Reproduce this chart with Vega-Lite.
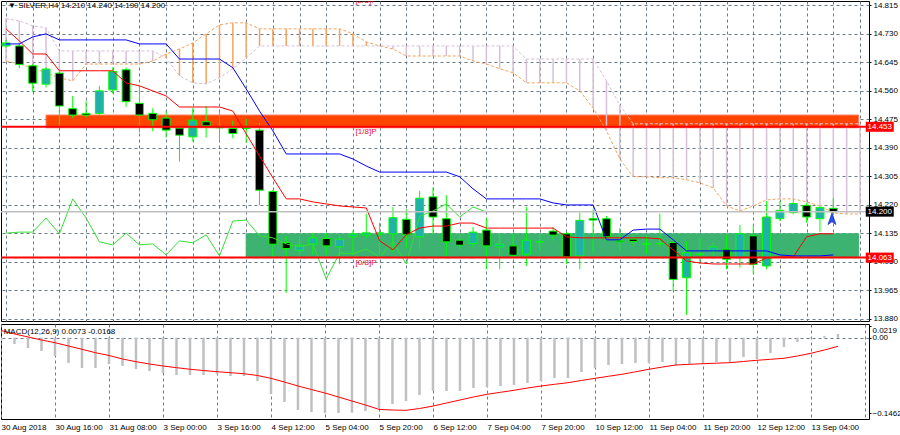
{
"$schema": "https://vega.github.io/schema/vega-lite/v6.json",
"padding": 0,
"background": "#ffffff",
"autosize": {"type": "pad"},
"spacing": 3,
"bounds": "flush",
"datasets": {
"candles": [
{"i":0,"o":14.694,"h":14.712,"l":14.688,"c":14.703},
{"i":1,"o":14.694,"h":14.703,"l":14.628,"c":14.639},
{"i":2,"o":14.635,"h":14.640,"l":14.557,"c":14.583},
{"i":3,"o":14.580,"h":14.630,"l":14.570,"c":14.625},
{"i":4,"o":14.613,"h":14.618,"l":14.456,"c":14.515},
{"i":5,"o":14.507,"h":14.545,"l":14.479,"c":14.488},
{"i":6,"o":14.493,"h":14.530,"l":14.480,"c":14.488},
{"i":7,"o":14.493,"h":14.575,"l":14.485,"c":14.560},
{"i":8,"o":14.563,"h":14.630,"l":14.552,"c":14.618},
{"i":9,"o":14.623,"h":14.630,"l":14.512,"c":14.528},
{"i":10,"o":14.523,"h":14.575,"l":14.436,"c":14.488},
{"i":11,"o":14.493,"h":14.508,"l":14.440,"c":14.474},
{"i":12,"o":14.479,"h":14.500,"l":14.421,"c":14.443},
{"i":13,"o":14.449,"h":14.456,"l":14.349,"c":14.428},
{"i":14,"o":14.423,"h":14.510,"l":14.409,"c":14.473},
{"i":15,"o":14.468,"h":14.515,"l":14.421,"c":14.456},
{"i":16,"o":14.453,"h":14.498,"l":14.411,"c":14.450},
{"i":17,"o":14.448,"h":14.471,"l":14.419,"c":14.433},
{"i":18,"o":14.450,"h":14.476,"l":14.405,"c":14.448},
{"i":19,"o":14.443,"h":14.465,"l":14.219,"c":14.264},
{"i":20,"o":14.260,"h":14.265,"l":14.063,"c":14.103},
{"i":21,"o":14.108,"h":14.127,"l":13.958,"c":14.090},
{"i":22,"o":14.085,"h":14.127,"l":14.071,"c":14.100},
{"i":23,"o":14.103,"h":14.137,"l":14.071,"c":14.122},
{"i":24,"o":14.120,"h":14.137,"l":14.071,"c":14.098},
{"i":25,"o":14.095,"h":14.133,"l":14.043,"c":14.118},
{"i":26,"o":14.125,"h":14.144,"l":14.071,"c":14.133},
{"i":27,"o":14.130,"h":14.194,"l":14.122,"c":14.137},
{"i":28,"o":14.133,"h":14.167,"l":14.074,"c":14.137},
{"i":29,"o":14.134,"h":14.214,"l":14.078,"c":14.182},
{"i":30,"o":14.177,"h":14.207,"l":14.091,"c":14.131},
{"i":31,"o":14.125,"h":14.262,"l":14.088,"c":14.240},
{"i":32,"o":14.244,"h":14.272,"l":14.133,"c":14.184},
{"i":33,"o":14.179,"h":14.249,"l":14.068,"c":14.110},
{"i":34,"o":14.115,"h":14.135,"l":14.088,"c":14.100},
{"i":35,"o":14.105,"h":14.154,"l":14.093,"c":14.139},
{"i":36,"o":14.145,"h":14.182,"l":14.028,"c":14.098},
{"i":37,"o":14.095,"h":14.134,"l":14.028,"c":14.103},
{"i":38,"o":14.098,"h":14.134,"l":14.068,"c":14.070},
{"i":39,"o":14.073,"h":14.214,"l":14.038,"c":14.115},
{"i":40,"o":14.110,"h":14.133,"l":14.083,"c":14.110},
{"i":41,"o":14.142,"h":14.154,"l":14.113,"c":14.130},
{"i":42,"o":14.134,"h":14.140,"l":14.043,"c":14.065},
{"i":43,"o":14.068,"h":14.197,"l":14.028,"c":14.174},
{"i":44,"o":14.179,"h":14.207,"l":14.078,"c":14.175},
{"i":45,"o":14.179,"h":14.187,"l":14.113,"c":14.125},
{"i":46,"o":14.113,"h":14.151,"l":14.083,"c":14.110},
{"i":47,"o":14.118,"h":14.133,"l":14.098,"c":14.111},
{"i":48,"o":14.104,"h":14.128,"l":14.074,"c":14.104},
{"i":49,"o":14.105,"h":14.194,"l":14.093,"c":14.104},
{"i":50,"o":14.108,"h":14.118,"l":13.963,"c":13.998},
{"i":51,"o":14.003,"h":14.111,"l":13.892,"c":14.078},
{"i":52,"o":14.073,"h":14.122,"l":14.044,"c":14.073},
{"i":53,"o":14.083,"h":14.108,"l":14.068,"c":14.095},
{"i":54,"o":14.088,"h":14.130,"l":14.028,"c":14.058},
{"i":55,"o":14.063,"h":14.160,"l":14.033,"c":14.134},
{"i":56,"o":14.128,"h":14.160,"l":14.015,"c":14.043},
{"i":57,"o":14.038,"h":14.232,"l":14.028,"c":14.184},
{"i":58,"o":14.179,"h":14.232,"l":14.172,"c":14.204},
{"i":59,"o":14.197,"h":14.237,"l":14.192,"c":14.224},
{"i":60,"o":14.219,"h":14.227,"l":14.167,"c":14.184},
{"i":61,"o":14.179,"h":14.217,"l":14.140,"c":14.212},
{"i":62,"o":14.210,"h":14.240,"l":14.190,"c":14.200}
],
"ichi": [
{"i":0,"t":14.745,"k":14.700},{"i":1,"t":14.709,"k":14.700},{"i":2,"t":14.670,"k":14.721},{"i":3,"t":14.670,"k":14.730},
{"i":4,"t":14.620,"k":14.712},{"i":5,"t":14.620,"k":14.712},{"i":6,"t":14.620,"k":14.712},{"i":7,"t":14.620,"k":14.712},
{"i":8,"t":14.620,"k":14.712},{"i":9,"t":14.584,"k":14.712},{"i":10,"t":14.575,"k":14.700},{"i":11,"t":14.560,"k":14.700},
{"i":12,"t":14.545,"k":14.700},{"i":13,"t":14.512,"k":14.655},{"i":14,"t":14.512,"k":14.655},{"i":15,"t":14.512,"k":14.655},
{"i":16,"t":14.512,"k":14.655},{"i":17,"t":14.500,"k":14.629},{"i":18,"t":14.432,"k":14.566},{"i":19,"t":14.366,"k":14.500},
{"i":20,"t":14.301,"k":14.441},{"i":21,"t":14.238,"k":14.372},{"i":22,"t":14.238,"k":14.372},{"i":23,"t":14.229,"k":14.372},
{"i":24,"t":14.223,"k":14.372},{"i":25,"t":14.217,"k":14.372},{"i":26,"t":14.214,"k":14.357},{"i":27,"t":14.211,"k":14.336},
{"i":28,"t":14.113,"k":14.318},{"i":29,"t":14.086,"k":14.318},{"i":30,"t":14.131,"k":14.318},{"i":31,"t":14.151,"k":14.318},
{"i":32,"t":14.157,"k":14.318},{"i":33,"t":14.157,"k":14.318},{"i":34,"t":14.166,"k":14.304},{"i":35,"t":14.166,"k":14.268},
{"i":36,"t":14.151,"k":14.238},{"i":37,"t":14.151,"k":14.238},{"i":38,"t":14.151,"k":14.238},{"i":39,"t":14.151,"k":14.238},
{"i":40,"t":14.151,"k":14.238},{"i":41,"t":14.151,"k":14.226},{"i":42,"t":14.125,"k":14.220},{"i":43,"t":14.122,"k":14.220},
{"i":44,"t":14.122,"k":14.220},{"i":45,"t":14.122,"k":14.116},{"i":46,"t":14.122,"k":14.116},{"i":47,"t":14.122,"k":14.145},
{"i":48,"t":14.122,"k":14.148},{"i":49,"t":14.119,"k":14.148},{"i":50,"t":14.086,"k":14.116},{"i":51,"t":14.053,"k":14.083},
{"i":52,"t":14.047,"k":14.083},{"i":53,"t":14.044,"k":14.083},{"i":54,"t":14.044,"k":14.083},{"i":55,"t":14.044,"k":14.083},
{"i":56,"t":14.044,"k":14.083},{"i":57,"t":14.062,"k":14.083},{"i":58,"t":14.065,"k":14.071},{"i":59,"t":14.065,"k":14.068},
{"i":60,"t":14.125,"k":14.068},{"i":61,"t":14.134,"k":14.068},{"i":62,"t":14.134,"k":14.071}
],
"chikou": [
{"i":0,"v":14.136},{"i":1,"v":14.139},{"i":2,"v":14.139},{"i":3,"v":14.181},{"i":4,"v":14.134},{"i":5,"v":14.238},
{"i":6,"v":14.181},{"i":7,"v":14.110},{"i":8,"v":14.101},{"i":9,"v":14.136},{"i":10,"v":14.101},{"i":11,"v":14.104},
{"i":12,"v":14.071},{"i":13,"v":14.113},{"i":14,"v":14.107},{"i":15,"v":14.131},{"i":16,"v":14.068},{"i":17,"v":14.172},
{"i":18,"v":14.175},{"i":19,"v":14.128},{"i":20,"v":14.122},{"i":21,"v":14.104},{"i":22,"v":14.095},{"i":23,"v":14.104},
{"i":24,"v":13.999},{"i":25,"v":14.077},{"i":26,"v":14.074},{"i":27,"v":14.089},{"i":28,"v":14.064},{"i":29,"v":14.110},
{"i":30,"v":14.044},{"i":31,"v":14.186},{"i":32,"v":14.202},{"i":33,"v":14.223},{"i":34,"v":14.184},{"i":35,"v":14.214},
{"i":36,"v":14.199}
],
"spans": [
{"i":0,"a":14.649,"b":14.775},{"i":1,"a":14.640,"b":14.769},{"i":2,"a":14.629,"b":14.754},{"i":3,"a":14.614,"b":14.748},
{"i":4,"a":14.599,"b":14.679},{"i":5,"a":14.590,"b":14.679},{"i":6,"a":14.640,"b":14.679},{"i":7,"a":14.640,"b":14.679},
{"i":8,"a":14.640,"b":14.679},{"i":9,"a":14.640,"b":14.679},{"i":10,"a":14.640,"b":14.679},{"i":11,"a":14.649,"b":14.679},
{"i":12,"a":14.670,"b":14.658},{"i":13,"a":14.685,"b":14.605},{"i":14,"a":14.703,"b":14.584},{"i":15,"a":14.730,"b":14.581},
{"i":16,"a":14.757,"b":14.599},{"i":17,"a":14.763,"b":14.626},{"i":18,"a":14.763,"b":14.658},{"i":19,"a":14.745,"b":14.694},
{"i":20,"a":14.745,"b":14.694},{"i":21,"a":14.745,"b":14.694},{"i":22,"a":14.745,"b":14.694},{"i":23,"a":14.745,"b":14.694},
{"i":24,"a":14.745,"b":14.694},{"i":25,"a":14.745,"b":14.694},{"i":26,"a":14.730,"b":14.694},{"i":27,"a":14.706,"b":14.694},
{"i":28,"a":14.694,"b":14.694},{"i":29,"a":14.685,"b":14.694},{"i":30,"a":14.664,"b":14.694},{"i":31,"a":14.664,"b":14.694},
{"i":32,"a":14.664,"b":14.694},{"i":33,"a":14.664,"b":14.694},{"i":34,"a":14.664,"b":14.694},{"i":35,"a":14.649,"b":14.694},
{"i":36,"a":14.640,"b":14.694},{"i":37,"a":14.626,"b":14.694},{"i":38,"a":14.614,"b":14.694},{"i":39,"a":14.584,"b":14.655},
{"i":40,"a":14.584,"b":14.655},{"i":41,"a":14.584,"b":14.655},{"i":42,"a":14.584,"b":14.655},{"i":43,"a":14.560,"b":14.655},
{"i":44,"a":14.509,"b":14.655},{"i":45,"a":14.441,"b":14.590},{"i":46,"a":14.357,"b":14.518},{"i":47,"a":14.304,"b":14.462},
{"i":48,"a":14.304,"b":14.462},{"i":49,"a":14.301,"b":14.462},{"i":50,"a":14.301,"b":14.462},{"i":51,"a":14.295,"b":14.462},
{"i":52,"a":14.286,"b":14.462},{"i":53,"a":14.271,"b":14.462},{"i":54,"a":14.217,"b":14.462},{"i":55,"a":14.202,"b":14.462},
{"i":56,"a":14.217,"b":14.462},{"i":57,"a":14.235,"b":14.462},{"i":58,"a":14.238,"b":14.462},{"i":59,"a":14.238,"b":14.462},
{"i":60,"a":14.229,"b":14.462},{"i":61,"a":14.217,"b":14.462},{"i":62,"a":14.196,"b":14.462},{"i":63,"a":14.193,"b":14.462},
{"i":64,"a":14.193,"b":14.462}
],
"zones": [
{"zone":"upper","x1":3,"x2":63.9,"p1":14.488,"p2":14.450},
{"zone":"lower","x1":18,"x2":63.9,"p1":14.134,"p2":14.063}
],
"levels": [
{"kind":"level","price":14.453,"label":"14.453"},
{"kind":"bid","price":14.200,"label":"14.200"},
{"kind":"level","price":14.063,"label":"14.063"}
],
"mlabels": [
{"i":26.2,"price":14.843,"text":"[2/8]P"},
{"i":26.2,"price":14.453,"text":"[1/8]P"},
{"i":26.2,"price":14.063,"text":"[0/8]P"}
],
"arrow": [{"i":61.9,"price":14.178}],
"macd": [
{"i":0,"h":-0.0064,"s":0.0140},{"i":1,"h":-0.0122,"s":0.0072},{"i":2,"h":-0.0200,"s":0.0014},{"i":3,"h":-0.0258,"s":-0.0045},
{"i":4,"h":-0.0355,"s":-0.0097},{"i":5,"h":-0.0490,"s":-0.0161},{"i":6,"h":-0.0587,"s":-0.0225},{"i":7,"h":-0.0587,"s":-0.0291},
{"i":8,"h":-0.0510,"s":-0.0345},{"i":9,"h":-0.0548,"s":-0.0413},{"i":10,"h":-0.0607,"s":-0.0465},{"i":11,"h":-0.0645,"s":-0.0510},
{"i":12,"h":-0.0684,"s":-0.0548},{"i":13,"h":-0.0723,"s":-0.0581},{"i":14,"h":-0.0723,"s":-0.0612},{"i":15,"h":-0.0723,"s":-0.0636},
{"i":16,"h":-0.0703,"s":-0.0659},{"i":17,"h":-0.0742,"s":-0.0678},{"i":18,"h":-0.0742,"s":-0.0698},{"i":19,"h":-0.0839,"s":-0.0733},
{"i":20,"h":-0.1091,"s":-0.0787},{"i":21,"h":-0.1246,"s":-0.0859},{"i":22,"h":-0.1401,"s":-0.0936},{"i":23,"h":-0.1440,"s":-0.1004},
{"i":24,"h":-0.1462,"s":-0.1072},{"i":25,"h":-0.1458,"s":-0.1149},{"i":26,"h":-0.1452,"s":-0.1227},{"i":27,"h":-0.1421,"s":-0.1304},
{"i":28,"h":-0.1362,"s":-0.1388},{"i":29,"h":-0.1285,"s":-0.1401},{"i":30,"h":-0.1227,"s":-0.1407},{"i":31,"h":-0.1110,"s":-0.1372},
{"i":32,"h":-0.1033,"s":-0.1324},{"i":33,"h":-0.1033,"s":-0.1266},{"i":34,"h":-0.1033,"s":-0.1207},{"i":35,"h":-0.0975,"s":-0.1149},
{"i":36,"h":-0.0955,"s":-0.1097},{"i":37,"h":-0.0936,"s":-0.1058},{"i":38,"h":-0.0917,"s":-0.1019},{"i":39,"h":-0.0878,"s":-0.0975},
{"i":40,"h":-0.0839,"s":-0.0936},{"i":41,"h":-0.0781,"s":-0.0903},{"i":42,"h":-0.0781,"s":-0.0872},{"i":43,"h":-0.0665,"s":-0.0829},
{"i":44,"h":-0.0587,"s":-0.0787},{"i":45,"h":-0.0529,"s":-0.0748},{"i":46,"h":-0.0510,"s":-0.0709},{"i":47,"h":-0.0490,"s":-0.0661},
{"i":48,"h":-0.0490,"s":-0.0612},{"i":49,"h":-0.0471,"s":-0.0568},{"i":50,"h":-0.0529,"s":-0.0529},{"i":51,"h":-0.0510,"s":-0.0516},
{"i":52,"h":-0.0510,"s":-0.0504},{"i":53,"h":-0.0471,"s":-0.0494},{"i":54,"h":-0.0471,"s":-0.0484},{"i":55,"h":-0.0374,"s":-0.0461},
{"i":56,"h":-0.0413,"s":-0.0438},{"i":57,"h":-0.0297,"s":-0.0419},{"i":58,"h":-0.0180,"s":-0.0399},{"i":59,"h":-0.0083,"s":-0.0355},
{"i":60,"h":-0.0015,"s":-0.0302},{"i":61,"h":0.0035,"s":-0.0238},{"i":62,"h":0.0073,"s":-0.0168}
],
"titles": [
{"panel":"main","text":"▼ SILVER,H4  14.210 14.240 14.190 14.200"},
{"panel":"macd","text":"MACD(12,26,9) 0.0073 -0.0168"}
]
},
"vconcat": [
{
"width": 868,
"height": 320,
"layer": [
{"data":{"name":"zones"},
 "mark":{"type":"rect","clip":true,"strokeWidth":1},
 "encoding":{
  "x":{"field":"x1","type":"quantitative","title":null,"scale":{"domain":[0,64.3],"nice":false,"zero":false},
       "axis":{"orient":"bottom","values":[0,2,4,6,8,10,12,14,16,18,20,22,24,26,28,30,32,34,36,38,40,42,44,46,48,50,52,54,56,58,60,62,64],"labels":false,"ticks":false,"domain":false,"grid":true,"title":null}},
  "x2":{"field":"x2"},
  "y":{"field":"p1","type":"quantitative","title":null,"scale":{"domain":[13.874,14.828],"nice":false,"zero":false},
       "axis":{"orient":"right","values":[14.815,14.730,14.645,14.560,14.475,14.390,14.305,14.220,14.135,14.050,13.965,13.880],"format":".3f","grid":true,"ticks":true,"tickSize":2,"labelPadding":2,"domain":false,"labelOverlap":false,"labelFlush":false,"labelBound":false,"title":null}},
  "y2":{"field":"p2"},
  "fill":{"field":"zone","type":"nominal","scale":{"domain":["upper","lower"],"range":["#FF4500","#3CB371"]},"legend":null},
  "stroke":{"field":"zone","type":"nominal","scale":{"domain":["upper","lower"],"range":["#FF8060","#3CB371"]},"legend":null}
 }},
{"data":{"name":"spans"},
 "mark":{"type":"rule","clip":true,"strokeWidth":1.5},
 "encoding":{
  "x":{"field":"i","type":"quantitative","title":null,"scale":{"domain":[0,64.3],"nice":false,"zero":false},
       "axis":{"orient":"bottom","values":[0,2,4,6,8,10,12,14,16,18,20,22,24,26,28,30,32,34,36,38,40,42,44,46,48,50,52,54,56,58,60,62,64],"labels":false,"ticks":false,"domain":false,"grid":true,"title":null}},
  "y":{"field":"a","type":"quantitative","title":null,"scale":{"domain":[13.874,14.828],"nice":false,"zero":false},
       "axis":{"orient":"right","values":[14.815,14.730,14.645,14.560,14.475,14.390,14.305,14.220,14.135,14.050,13.965,13.880],"format":".3f","grid":true,"ticks":true,"tickSize":2,"labelPadding":2,"domain":false,"labelOverlap":false,"labelFlush":false,"labelBound":false,"title":null}},
  "y2":{"field":"b"},
  "color":{"condition":{"test":"datum.a > datum.b","value":"#F4A460"},"value":"#D8BFD8"}
 }},
{"data":{"name":"spans"},
 "mark":{"type":"line","clip":true,"strokeWidth":1,"strokeDash":[3,2],"color":"#F4A460"},
 "encoding":{
  "x":{"field":"i","type":"quantitative","title":null,"scale":{"domain":[0,64.3],"nice":false,"zero":false},
       "axis":{"orient":"bottom","values":[0,2,4,6,8,10,12,14,16,18,20,22,24,26,28,30,32,34,36,38,40,42,44,46,48,50,52,54,56,58,60,62,64],"labels":false,"ticks":false,"domain":false,"grid":true,"title":null}},
  "y":{"field":"a","type":"quantitative","title":null,"scale":{"domain":[13.874,14.828],"nice":false,"zero":false},
       "axis":{"orient":"right","values":[14.815,14.730,14.645,14.560,14.475,14.390,14.305,14.220,14.135,14.050,13.965,13.880],"format":".3f","grid":true,"ticks":true,"tickSize":2,"labelPadding":2,"domain":false,"labelOverlap":false,"labelFlush":false,"labelBound":false,"title":null}}
 }},
{"data":{"name":"spans"},
 "mark":{"type":"line","clip":true,"strokeWidth":1,"strokeDash":[3,2],"color":"#D8BFD8"},
 "encoding":{
  "x":{"field":"i","type":"quantitative","title":null,"scale":{"domain":[0,64.3],"nice":false,"zero":false},
       "axis":{"orient":"bottom","values":[0,2,4,6,8,10,12,14,16,18,20,22,24,26,28,30,32,34,36,38,40,42,44,46,48,50,52,54,56,58,60,62,64],"labels":false,"ticks":false,"domain":false,"grid":true,"title":null}},
  "y":{"field":"b","type":"quantitative","title":null,"scale":{"domain":[13.874,14.828],"nice":false,"zero":false},
       "axis":{"orient":"right","values":[14.815,14.730,14.645,14.560,14.475,14.390,14.305,14.220,14.135,14.050,13.965,13.880],"format":".3f","grid":true,"ticks":true,"tickSize":2,"labelPadding":2,"domain":false,"labelOverlap":false,"labelFlush":false,"labelBound":false,"title":null}}
 }},
{"data":{"name":"candles"},
 "mark":{"type":"rule","clip":true,"strokeWidth":1,"color":"#00FF00"},
 "encoding":{
  "x":{"field":"i","type":"quantitative","title":null,"scale":{"domain":[0,64.3],"nice":false,"zero":false},
       "axis":{"orient":"bottom","values":[0,2,4,6,8,10,12,14,16,18,20,22,24,26,28,30,32,34,36,38,40,42,44,46,48,50,52,54,56,58,60,62,64],"labels":false,"ticks":false,"domain":false,"grid":true,"title":null}},
  "y":{"field":"l","type":"quantitative","title":null,"scale":{"domain":[13.874,14.828],"nice":false,"zero":false},
       "axis":{"orient":"right","values":[14.815,14.730,14.645,14.560,14.475,14.390,14.305,14.220,14.135,14.050,13.965,13.880],"format":".3f","grid":true,"ticks":true,"tickSize":2,"labelPadding":2,"domain":false,"labelOverlap":false,"labelFlush":false,"labelBound":false,"title":null}},
  "y2":{"field":"h"}
 }},
{"data":{"name":"candles"},
 "mark":{"type":"bar","clip":true,"width":8,"stroke":"#00FF00","strokeWidth":1},
 "encoding":{
  "x":{"field":"i","type":"quantitative","title":null,"scale":{"domain":[0,64.3],"nice":false,"zero":false},
       "axis":{"orient":"bottom","values":[0,2,4,6,8,10,12,14,16,18,20,22,24,26,28,30,32,34,36,38,40,42,44,46,48,50,52,54,56,58,60,62,64],"labels":false,"ticks":false,"domain":false,"grid":true,"title":null}},
  "y":{"field":"o","type":"quantitative","title":null,"scale":{"domain":[13.874,14.828],"nice":false,"zero":false},
       "axis":{"orient":"right","values":[14.815,14.730,14.645,14.560,14.475,14.390,14.305,14.220,14.135,14.050,13.965,13.880],"format":".3f","grid":true,"ticks":true,"tickSize":2,"labelPadding":2,"domain":false,"labelOverlap":false,"labelFlush":false,"labelBound":false,"title":null}},
  "y2":{"field":"c"},
  "fill":{"condition":{"test":"datum.c > datum.o","value":"#20B2AA"},"value":"#000000"}
 }},
{"data":{"name":"chikou"},
 "mark":{"type":"line","clip":true,"strokeWidth":1,"color":"#33E033"},
 "encoding":{
  "x":{"field":"i","type":"quantitative","title":null,"scale":{"domain":[0,64.3],"nice":false,"zero":false},
       "axis":{"orient":"bottom","values":[0,2,4,6,8,10,12,14,16,18,20,22,24,26,28,30,32,34,36,38,40,42,44,46,48,50,52,54,56,58,60,62,64],"labels":false,"ticks":false,"domain":false,"grid":true,"title":null}},
  "y":{"field":"v","type":"quantitative","title":null,"scale":{"domain":[13.874,14.828],"nice":false,"zero":false},
       "axis":{"orient":"right","values":[14.815,14.730,14.645,14.560,14.475,14.390,14.305,14.220,14.135,14.050,13.965,13.880],"format":".3f","grid":true,"ticks":true,"tickSize":2,"labelPadding":2,"domain":false,"labelOverlap":false,"labelFlush":false,"labelBound":false,"title":null}}
 }},
{"data":{"name":"ichi"},
 "mark":{"type":"line","clip":true,"strokeWidth":1,"color":"#FF0000"},
 "encoding":{
  "x":{"field":"i","type":"quantitative","title":null,"scale":{"domain":[0,64.3],"nice":false,"zero":false},
       "axis":{"orient":"bottom","values":[0,2,4,6,8,10,12,14,16,18,20,22,24,26,28,30,32,34,36,38,40,42,44,46,48,50,52,54,56,58,60,62,64],"labels":false,"ticks":false,"domain":false,"grid":true,"title":null}},
  "y":{"field":"t","type":"quantitative","title":null,"scale":{"domain":[13.874,14.828],"nice":false,"zero":false},
       "axis":{"orient":"right","values":[14.815,14.730,14.645,14.560,14.475,14.390,14.305,14.220,14.135,14.050,13.965,13.880],"format":".3f","grid":true,"ticks":true,"tickSize":2,"labelPadding":2,"domain":false,"labelOverlap":false,"labelFlush":false,"labelBound":false,"title":null}}
 }},
{"data":{"name":"ichi"},
 "mark":{"type":"line","clip":true,"strokeWidth":1,"color":"#0000FF"},
 "encoding":{
  "x":{"field":"i","type":"quantitative","title":null,"scale":{"domain":[0,64.3],"nice":false,"zero":false},
       "axis":{"orient":"bottom","values":[0,2,4,6,8,10,12,14,16,18,20,22,24,26,28,30,32,34,36,38,40,42,44,46,48,50,52,54,56,58,60,62,64],"labels":false,"ticks":false,"domain":false,"grid":true,"title":null}},
  "y":{"field":"k","type":"quantitative","title":null,"scale":{"domain":[13.874,14.828],"nice":false,"zero":false},
       "axis":{"orient":"right","values":[14.815,14.730,14.645,14.560,14.475,14.390,14.305,14.220,14.135,14.050,13.965,13.880],"format":".3f","grid":true,"ticks":true,"tickSize":2,"labelPadding":2,"domain":false,"labelOverlap":false,"labelFlush":false,"labelBound":false,"title":null}}
 }},
{"data":{"name":"levels"},
 "mark":{"type":"rule","clip":true},
 "encoding":{
  "y":{"field":"price","type":"quantitative","title":null,"scale":{"domain":[13.874,14.828],"nice":false,"zero":false},
       "axis":{"orient":"right","values":[14.815,14.730,14.645,14.560,14.475,14.390,14.305,14.220,14.135,14.050,13.965,13.880],"format":".3f","grid":true,"ticks":true,"tickSize":2,"labelPadding":2,"domain":false,"labelOverlap":false,"labelFlush":false,"labelBound":false,"title":null}},
  "color":{"condition":{"test":"datum.kind == 'bid'","value":"#C0C0C0"},"value":"#FF0000"},
  "strokeWidth":{"condition":{"test":"datum.kind == 'bid'","value":1.5},"value":2}
 }},
{"data":{"name":"mlabels"},
 "mark":{"type":"text","clip":true,"align":"left","baseline":"top","dy":1.5,"fontSize":8,"fill":"#E8102A"},
 "encoding":{
  "x":{"field":"i","type":"quantitative","title":null,"scale":{"domain":[0,64.3],"nice":false,"zero":false},
       "axis":{"orient":"bottom","values":[0,2,4,6,8,10,12,14,16,18,20,22,24,26,28,30,32,34,36,38,40,42,44,46,48,50,52,54,56,58,60,62,64],"labels":false,"ticks":false,"domain":false,"grid":true,"title":null}},
  "y":{"field":"price","type":"quantitative","title":null,"scale":{"domain":[13.874,14.828],"nice":false,"zero":false},
       "axis":{"orient":"right","values":[14.815,14.730,14.645,14.560,14.475,14.390,14.305,14.220,14.135,14.050,13.965,13.880],"format":".3f","grid":true,"ticks":true,"tickSize":2,"labelPadding":2,"domain":false,"labelOverlap":false,"labelFlush":false,"labelBound":false,"title":null}},
  "text":{"field":"text"}
 }},
{"data":{"name":"arrow"},
 "mark":{"type":"point","shape":"M0,-1L0.65,0.9L0,0.45L-0.65,0.9Z","size":150,"filled":true,"fill":"#2A52F0","stroke":"#0A1A90","strokeWidth":0.6,"opacity":1},
 "encoding":{
  "x":{"field":"i","type":"quantitative","title":null,"scale":{"domain":[0,64.3],"nice":false,"zero":false},
       "axis":{"orient":"bottom","values":[0,2,4,6,8,10,12,14,16,18,20,22,24,26,28,30,32,34,36,38,40,42,44,46,48,50,52,54,56,58,60,62,64],"labels":false,"ticks":false,"domain":false,"grid":true,"title":null}},
  "y":{"field":"price","type":"quantitative","title":null,"scale":{"domain":[13.874,14.828],"nice":false,"zero":false},
       "axis":{"orient":"right","values":[14.815,14.730,14.645,14.560,14.475,14.390,14.305,14.220,14.135,14.050,13.965,13.880],"format":".3f","grid":true,"ticks":true,"tickSize":2,"labelPadding":2,"domain":false,"labelOverlap":false,"labelFlush":false,"labelBound":false,"title":null}}
 }},
{"data":{"name":"levels"},
 "mark":{"type":"tick","orient":"horizontal","size":28,"thickness":10,"opacity":1},
 "encoding":{
  "x":{"datum":65.48,"type":"quantitative","title":null,"scale":{"domain":[0,64.3],"nice":false,"zero":false},
       "axis":{"orient":"bottom","values":[0,2,4,6,8,10,12,14,16,18,20,22,24,26,28,30,32,34,36,38,40,42,44,46,48,50,52,54,56,58,60,62,64],"labels":false,"ticks":false,"domain":false,"grid":true,"title":null}},
  "y":{"field":"price","type":"quantitative","title":null,"scale":{"domain":[13.874,14.828],"nice":false,"zero":false},
       "axis":{"orient":"right","values":[14.815,14.730,14.645,14.560,14.475,14.390,14.305,14.220,14.135,14.050,13.965,13.880],"format":".3f","grid":true,"ticks":true,"tickSize":2,"labelPadding":2,"domain":false,"labelOverlap":false,"labelFlush":false,"labelBound":false,"title":null}},
  "color":{"condition":{"test":"datum.kind == 'bid'","value":"#000000"},"value":"#FF0000"}
 }},
{"data":{"name":"levels"},
 "mark":{"type":"text","align":"center","baseline":"middle","fontSize":8,"fill":"#FFFFFF"},
 "encoding":{
  "x":{"datum":65.48,"type":"quantitative","title":null,"scale":{"domain":[0,64.3],"nice":false,"zero":false},
       "axis":{"orient":"bottom","values":[0,2,4,6,8,10,12,14,16,18,20,22,24,26,28,30,32,34,36,38,40,42,44,46,48,50,52,54,56,58,60,62,64],"labels":false,"ticks":false,"domain":false,"grid":true,"title":null}},
  "y":{"field":"price","type":"quantitative","title":null,"scale":{"domain":[13.874,14.828],"nice":false,"zero":false},
       "axis":{"orient":"right","values":[14.815,14.730,14.645,14.560,14.475,14.390,14.305,14.220,14.135,14.050,13.965,13.880],"format":".3f","grid":true,"ticks":true,"tickSize":2,"labelPadding":2,"domain":false,"labelOverlap":false,"labelFlush":false,"labelBound":false,"title":null}},
  "text":{"field":"label"}
 }},
{"data":{"name":"titles"},
 "transform":[{"filter":"datum.panel == 'main'"}],
 "mark":{"type":"text","align":"left","baseline":"top","fontSize":8,"fill":"#000000"},
 "encoding":{
  "x":{"datum":0.15,"type":"quantitative","title":null,"scale":{"domain":[0,64.3],"nice":false,"zero":false},
       "axis":{"orient":"bottom","values":[0,2,4,6,8,10,12,14,16,18,20,22,24,26,28,30,32,34,36,38,40,42,44,46,48,50,52,54,56,58,60,62,64],"labels":false,"ticks":false,"domain":false,"grid":true,"title":null}},
  "y":{"datum":14.825,"type":"quantitative","title":null,"scale":{"domain":[13.874,14.828],"nice":false,"zero":false},
       "axis":{"orient":"right","values":[14.815,14.730,14.645,14.560,14.475,14.390,14.305,14.220,14.135,14.050,13.965,13.880],"format":".3f","grid":true,"ticks":true,"tickSize":2,"labelPadding":2,"domain":false,"labelOverlap":false,"labelFlush":false,"labelBound":false,"title":null}},
  "text":{"field":"text"}
 }}
]
},
{
"width": 868,
"height": 95,
"layer": [
{"data":{"name":"macd"},
 "mark":{"type":"rule","clip":true,"strokeWidth":2.5,"color":"#C0C0C0"},
 "encoding":{
  "x":{"field":"i","type":"quantitative","title":null,"scale":{"domain":[0,64.3],"nice":false,"zero":false},
       "axis":{"orient":"bottom","values":[0,2,4,6,8,10,12,14,16,18,20,22,24,26,28,30,32,34,36,38,40,42,44,46,48,50,52,54,56,58,60,62,64],"grid":true,"ticks":false,"domain":false,"labelPadding":4,"labelAlign":"left","labelFlush":false,"labelOverlap":false,"title":null,
       "labelExpr":"datum.value % 4 == 0 && datum.value <= 60 ? ['30 Aug 2018','30 Aug 16:00','31 Aug 08:00','3 Sep 00:00','3 Sep 16:00','4 Sep 12:00','5 Sep 04:00','5 Sep 20:00','6 Sep 12:00','7 Sep 04:00','7 Sep 20:00','10 Sep 12:00','11 Sep 04:00','11 Sep 20:00','12 Sep 12:00','13 Sep 04:00'][datum.value / 4] : ''"}},
  "y":{"field":"h","type":"quantitative","title":null,"scale":{"domain":[-0.1575,0.0265],"nice":false,"zero":false},
       "axis":{"orient":"right","values":[0.0219,0,-0.1462],"grid":true,"gridOpacity":{"condition":{"test":"datum.value == 0","value":1},"value":0},"ticks":true,"tickSize":2,"labelPadding":1,"domain":false,"labelOverlap":false,"labelFlush":false,"title":null,
       "labelBaseline":{"condition":{"test":"datum.value > 0.01","value":"top"},"value":"middle"},
       "labelExpr":"datum.value == 0 ? '0.00' : format(datum.value, '.4f')"}},
  "y2":{"datum":0}
 }},
{"data":{"name":"macd"},
 "mark":{"type":"line","clip":true,"strokeWidth":1,"color":"#FF0000"},
 "encoding":{
  "x":{"field":"i","type":"quantitative","title":null,"scale":{"domain":[0,64.3],"nice":false,"zero":false}},
  "y":{"field":"s","type":"quantitative","title":null,"scale":{"domain":[-0.1575,0.0265],"nice":false,"zero":false}}
 }},
{"data":{"name":"titles"},
 "transform":[{"filter":"datum.panel == 'macd'"}],
 "mark":{"type":"text","align":"left","baseline":"middle","fontSize":8,"fill":"#000000"},
 "encoding":{
  "x":{"datum":0.2,"type":"quantitative","title":null,"scale":{"domain":[0,64.3],"nice":false,"zero":false}},
  "y":{"datum":0.011,"type":"quantitative","title":null,"scale":{"domain":[-0.1575,0.0265],"nice":false,"zero":false}},
  "text":{"field":"text"}
 }}
]
}
],
"config": {
 "font": "Liberation Sans",
 "view": {"stroke": "#000000", "strokeWidth": 1},
 "axis": {"labelFont": "Liberation Sans", "labelFontSize": 8, "labelColor": "#000000", "gridColor": "#6B7A8A", "gridDash": [3,3], "gridWidth": 1, "gridOpacity": 1, "tickColor": "#000000", "labelOverlap": false}
}
}
